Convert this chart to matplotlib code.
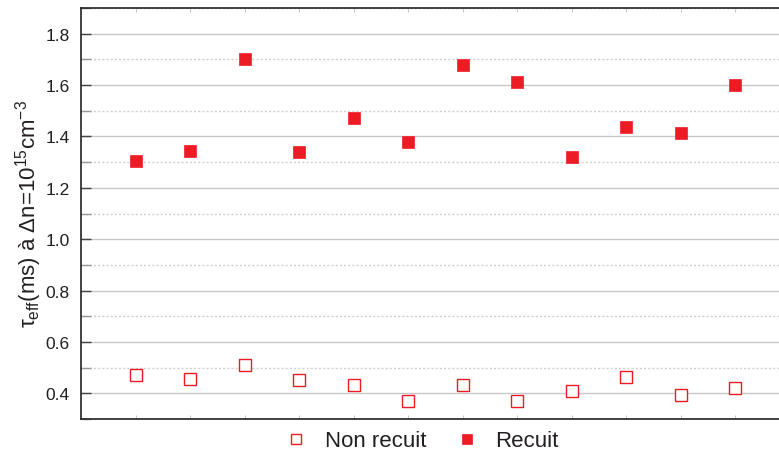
import matplotlib
matplotlib.use('Agg')
import matplotlib.pyplot as plt
from matplotlib.ticker import MultipleLocator

plt.rcParams['font.family'] = ['Liberation Sans', 'DejaVu Sans']
plt.rcParams['mathtext.fontset'] = 'custom'
plt.rcParams['mathtext.rm'] = 'Liberation Sans'
plt.rcParams['mathtext.it'] = 'Liberation Sans'

# Sample index and lifetimes (ms)
samples = list(range(1, 13))
non_recuit = [0.470, 0.457, 0.509, 0.453, 0.431, 0.370,
              0.432, 0.369, 0.408, 0.464, 0.395, 0.419]
recuit = [1.304, 1.344, 1.700, 1.341, 1.470, 1.380,
          1.680, 1.613, 1.320, 1.435, 1.415, 1.600]

red = '#ed1c24'
text_col = '#231f20'

fig = plt.figure(figsize=(7.79, 4.56), dpi=100)
ax = fig.add_axes([81 / 779, 1 - 420 / 456, 1 - 81 / 779, (420 - 9) / 456])

ax.plot(samples, non_recuit, linestyle='none', marker='s', markersize=8.8,
        markerfacecolor='white', markeredgecolor=red, markeredgewidth=1.0,
        label='Non recuit', zorder=3)
ax.plot(samples, recuit, linestyle='none', marker='s', markersize=9.2,
        markerfacecolor=red, markeredgecolor=red, markeredgewidth=0.5,
        label='Recuit', zorder=3)

ax.set_xlim(0, 12.8)
ax.set_ylim(0.3, 1.9)
ax.yaxis.set_major_locator(MultipleLocator(0.2))
ax.yaxis.set_minor_locator(MultipleLocator(0.1))
ax.set_xticks(samples)
ax.set_xticklabels([])

ax.grid(True, which='major', axis='y', color='#c8c8c8', linewidth=1.0, linestyle='-')
ax.grid(True, which='minor', axis='y', color='#d0d0d0', linewidth=1.0, linestyle=(0, (1.5, 1.5)))
ax.set_axisbelow(True)

ax.tick_params(axis='y', which='major', direction='in', length=7, width=1,
               color='#444444', labelsize=12.5, labelcolor=text_col, pad=8)
ax.tick_params(axis='y', which='minor', direction='in', length=7, width=1, color='#999999')
ax.tick_params(axis='x', which='major', direction='in', length=3, width=0.6,
               color='#bbbbbb', top=True, bottom=True)

ax.spines['right'].set_visible(False)
for side in ('left', 'top', 'bottom'):
    ax.spines[side].set_color('#222222')
    ax.spines[side].set_linewidth(1.2)

ax.set_ylabel(r'$\tau_{\mathrm{eff}}$(ms) à $\Delta$n=10$^{15}$cm$^{-3}$',
              fontsize=16, color=text_col, labelpad=1)

leg = fig.legend(loc='center', bbox_to_anchor=(422 / 779, 1 - 442 / 456), ncol=2,
                 frameon=False, fontsize=16, markerscale=0.8,
                 handletextpad=0.8, columnspacing=1.3, handlelength=1.0)
for t in leg.get_texts():
    t.set_color(text_col)

fig.savefig('out.png', dpi=100)
